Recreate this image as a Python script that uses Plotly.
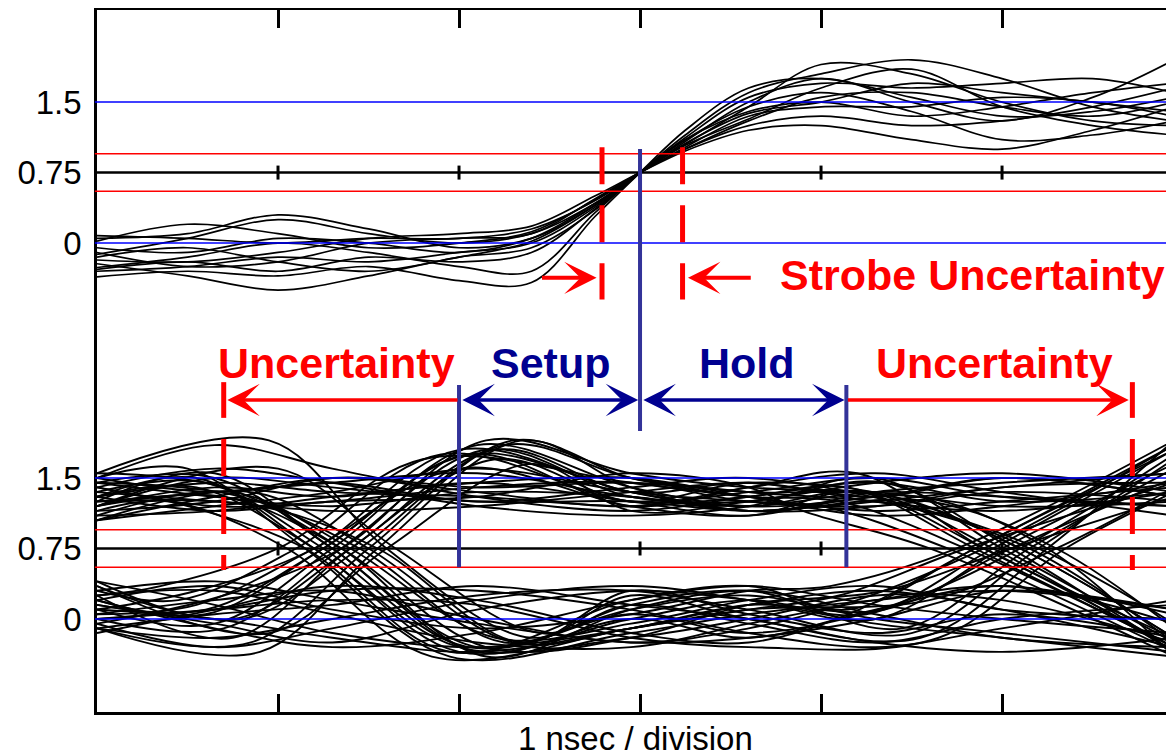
import plotly.graph_objects as go

# ---------------- data ----------------
X_DIV = [1, 2, 3, 4, 5]                     # division ticks, ns
Y_TICK_VALS = [0, 0.75, 1.5, 4.0, 4.75, 5.5]
Y_TICK_TEXT = ["0", "0.75", "1.5", "0", "0.75", "1.5"]
TOP_OFFSET = 4.0                            # upper panel drawn 4 units higher
LEVELS_BLUE = [0.0, 1.5]
LEVELS_RED = [0.55, 0.95]
LEVEL_MID = 0.75

# upper panel: strobe waveforms (sample times, ns)
TOP_X = [0, 0.5, 1.0, 1.5, 2.0, 2.4, 2.75, 3.0, 3.25, 3.6, 4.0, 4.5, 5.0, 5.5, 5.95]
TOP_TRACES = [
    [0.08, 0.05, 0.00, 0.05, 0.05, 0.15, 0.45, 0.75, 1.00, 1.30, 1.55, 1.60, 1.45, 1.35, 1.50],
    [0.05, 0.10, 0.30, 0.15, -0.05, 0.05, 0.40, 0.75, 1.05, 1.45, 1.90, 1.80, 1.50, 1.30, 1.25],
    [-0.12, 0.05, 0.25, 0.10, 0.00, 0.10, 0.42, 0.75, 1.08, 1.50, 1.75, 1.50, 1.30, 1.55, 1.95],
    [-0.18, -0.20, -0.10, 0.05, 0.10, 0.18, 0.50, 0.75, 0.98, 1.20, 1.25, 1.10, 1.00, 1.20, 1.45],
    [-0.22, -0.35, -0.50, -0.35, -0.15, -0.05, 0.35, 0.75, 1.12, 1.55, 1.70, 1.65, 1.70, 1.75, 1.60],
    [-0.26, -0.15, 0.00, -0.10, -0.25, -0.30, 0.32, 0.75, 1.15, 1.60, 1.80, 1.95, 1.75, 1.45, 1.30],
    [-0.30, -0.25, -0.15, -0.20, -0.10, 0.00, 0.38, 0.75, 1.10, 1.40, 1.50, 1.35, 1.45, 1.60, 1.70],
    [-0.36, -0.30, -0.35, -0.25, -0.40, -0.42, 0.28, 0.75, 1.20, 1.65, 1.75, 1.55, 1.35, 1.40, 1.55],
    [-0.10, -0.25, -0.20, 0.00, 0.05, 0.10, 0.47, 0.75, 1.02, 1.35, 1.45, 1.45, 1.55, 1.50, 1.35],
    [-0.28, -0.20, -0.30, -0.15, -0.20, -0.10, 0.36, 0.75, 1.10, 1.45, 1.60, 1.40, 1.10, 1.15, 1.30],
    [-0.05, -0.10, 0.05, 0.00, -0.10, 0.05, 0.42, 0.75, 1.06, 1.38, 1.50, 1.70, 1.60, 1.50, 1.40],
    [0.02, 0.20, 0.10, -0.05, 0.00, 0.12, 0.46, 0.75, 1.00, 1.25, 1.35, 1.25, 1.30, 1.45, 1.65],
    [-0.15, -0.05, -0.20, -0.30, -0.15, 0.02, 0.40, 0.75, 1.04, 1.32, 1.65, 1.85, 1.45, 1.25, 1.15],
]

# lower panel: eye diagram. Per trace: first / second crossing time (ns) and
# levels at [start, before t1, t1, after t1, 2.95, 3.6, before t2, t2, end]
BOT_T1 = [1.3, 1.3, 1.3, 1.3, 1.3,
          1.3, 1.3, 1.3, 1.3, 1.3,
          1.2, 1.45, 1.05, 1.6, 1.35,
          1.25, 1.4, 1.15, 1.55, 1.3,
          1.3, 1.1, 1.5, 1.2, 1.4,
          1.35, 1.0, 1.55, 1.25, 1.45,
          1.3, 1.3, 1.3, 1.3, 1.3,
          1.3, 1.3, 1.3, 1.3, 1.3,
          1.3, 1.3, 1.3, 1.3, 1.3,
          1.3, 1.15, 1.5, 1.2, 1.35, 1.65,
          1.25, 1.35, 1.6, 1.2, 1.4,
          1.3, 1.3, 1.3, 1.3]
BOT_T2 = [5.0, 5.0, 5.0, 5.0, 5.0,
          4.85, 5.1, 5.3, 4.7, 5.0,
          4.95, 5.15, 4.8, 5.25, 5.05,
          5.0, 5.0, 5.0, 5.0, 5.0,
          5.0, 5.0, 5.0, 5.0, 5.0,
          5.05, 4.8, 5.25, 4.9, 5.15,
          4.9, 5.2, 4.75, 5.05, 5.35,
          5.0, 5.0, 5.0, 5.0, 5.0,
          5.0, 5.0, 4.9, 5.2, 4.6,
          5.1, 4.85, 5.3, 5.0, 5.0, 5.0,
          5.0, 5.0, 5.0, 4.95, 5.1,
          5.0, 4.85, 5.0, 5.0]
BOT_TRACES = [
    [1.25, 1.35, 1.45, 1.55, 1.30, 1.20, 1.35, 1.30, 1.20],
    [1.50, 1.85, 1.60, 1.30, 1.15, 1.30, 1.45, 1.25, 1.35],
    [1.10, 1.15, 1.30, 1.45, 1.50, 1.30, 1.10, 1.20, 1.45],
    [1.35, 1.25, 1.15, 1.20, 1.35, 1.45, 1.30, 1.50, 1.30],
    [1.20, 1.50, 1.40, 1.25, 1.25, 1.15, 1.25, 1.40, 1.55],
    [1.30, 1.45, 1.35, 1.30, 1.20, 1.30, 1.40, 0.75, -0.30],
    [1.15, 1.25, 1.50, 1.40, 1.45, 1.35, 1.30, 0.75, -0.20],
    [1.45, 1.30, 1.20, 1.35, 1.30, 1.15, 1.25, 0.75, -0.10],
    [1.05, 1.20, 1.35, 1.60, 1.35, 1.25, 1.20, 0.75, -0.35],
    [1.40, 1.60, 1.45, 1.20, 1.10, 1.20, 1.50, 0.75, -0.25],
    [1.30, 1.40, 0.75, -0.35, 0.00, 0.20, 0.05, 0.75, 1.80],
    [1.45, 1.30, 0.75, -0.25, 0.15, 0.30, -0.10, 0.75, 1.60],
    [1.15, 1.25, 0.75, -0.40, -0.10, 0.10, 0.25, 0.75, 1.45],
    [1.55, 1.90, 0.75, -0.20, 0.25, 0.00, -0.20, 0.75, 1.90],
    [1.20, 1.30, 0.75, -0.30, -0.20, 0.15, 0.30, 0.75, 1.30],
    [1.35, 1.45, 0.75, -0.30, 0.10, 0.25, 0.00, -0.15, -0.35],
    [1.10, 1.35, 0.75, -0.20, -0.05, 0.20, 0.35, 0.10, 0.00],
    [1.50, 1.60, 0.75, -0.40, -0.15, 0.05, 0.20, 0.30, 0.10],
    [1.25, 1.20, 0.75, -0.25, 0.30, 0.05, -0.15, 0.05, -0.20],
    [1.45, 1.50, 0.75, -0.35, 0.00, -0.20, 0.10, 0.35, -0.05],
    [0.10, -0.05, 0.75, 1.85, 1.40, 1.20, 1.30, 1.50, 1.30],
    [0.30, 0.20, 0.75, 1.75, 1.25, 1.35, 1.50, 1.30, 1.20],
    [-0.10, -0.25, 0.75, 1.90, 1.50, 1.30, 1.15, 1.25, 1.40],
    [0.05, 0.15, 0.75, 1.60, 1.20, 1.10, 1.35, 1.45, 1.55],
    [0.40, 0.00, 0.75, 1.80, 1.35, 1.45, 1.25, 1.15, 1.35],
    [0.00, -0.10, 0.75, 1.80, 1.30, 1.25, 1.45, 0.75, -0.35],
    [0.25, 0.35, 0.75, 1.70, 1.45, 1.30, 1.25, 0.75, -0.30],
    [-0.10, -0.35, 0.75, 1.90, 1.40, 1.15, 1.30, 0.75, -0.40],
    [0.15, 0.10, 0.75, 1.75, 1.20, 1.40, 1.55, 0.75, -0.20],
    [0.35, 0.00, 0.75, 1.85, 1.50, 1.35, 1.20, 0.75, -0.25],
    [0.05, 0.20, 0.30, 0.00, -0.25, -0.10, 0.20, 0.75, 1.85],
    [-0.10, -0.20, 0.00, 0.25, 0.30, 0.10, -0.15, 0.75, 1.70],
    [0.20, 0.35, 0.10, -0.10, 0.05, 0.30, 0.35, 0.75, 1.90],
    [0.40, 0.15, -0.15, -0.30, -0.10, 0.15, 0.10, 0.75, 1.50],
    [0.00, 0.10, 0.20, 0.15, -0.20, -0.30, -0.20, 0.75, 1.35],
    [0.10, 0.00, -0.20, -0.35, -0.10, 0.15, 0.30, 0.10, -0.30],
    [-0.05, -0.30, -0.10, 0.20, 0.35, 0.20, -0.05, -0.20, -0.40],
    [0.30, 0.40, 0.20, -0.05, -0.25, -0.20, 0.00, 0.30, 0.10],
    [0.00, 0.10, 0.30, 0.30, 0.10, -0.15, -0.30, -0.10, 0.20],
    [0.20, -0.10, -0.30, -0.15, 0.20, 0.35, 0.15, 0.00, -0.15],
    [1.40, 1.20, 1.25, 1.40, 1.45, 1.25, 1.20, 1.35, 1.25],
    [1.05, 1.30, 1.50, 1.35, 1.20, 1.40, 1.55, 1.35, 1.10],
    [1.20, 1.40, 1.30, 1.45, 1.25, 1.10, 1.35, 0.75, -0.30],
    [1.50, 1.35, 1.45, 1.25, 1.40, 1.50, 1.20, 0.75, -0.05],
    [1.30, 1.15, 1.25, 1.30, 1.55, 1.40, 1.15, 0.75, -0.40],
    [1.25, 1.55, 0.75, -0.30, 0.05, -0.15, 0.15, 0.75, 1.75],
    [1.40, 1.20, 0.75, -0.35, 0.20, 0.35, 0.10, 0.75, 1.85],
    [1.05, 1.35, 0.75, -0.25, -0.10, 0.10, 0.20, 0.75, 1.40],
    [1.30, 1.50, 0.75, -0.30, -0.20, 0.00, 0.25, 0.20, -0.25],
    [1.55, 1.40, 0.75, -0.40, 0.10, 0.30, 0.05, -0.20, -0.30],
    [1.20, 1.60, 0.75, -0.15, 0.15, -0.05, -0.25, 0.00, 0.15],
    [0.20, 0.05, 0.75, 1.75, 1.35, 1.15, 1.20, 1.40, 1.45],
    [-0.05, 0.25, 0.75, 1.90, 1.55, 1.40, 1.35, 1.20, 1.25],
    [0.35, -0.15, 0.75, 1.65, 1.15, 1.25, 1.45, 1.55, 1.35],
    [0.10, 0.30, 0.75, 1.80, 1.35, 1.20, 1.35, 0.75, -0.35],
    [0.25, -0.20, 0.75, 1.70, 1.25, 1.45, 1.30, 0.75, -0.20],
    [0.15, -0.05, -0.25, 0.10, 0.30, 0.20, 0.00, 0.75, 1.65],
    [-0.15, 0.10, 0.35, 0.20, -0.15, -0.25, 0.05, 0.75, 1.80],
    [0.25, 0.30, 0.05, -0.25, -0.30, -0.05, 0.20, 0.35, 0.05],
    [-0.10, 0.05, 0.15, 0.35, 0.15, 0.00, -0.25, -0.35, -0.20],
]

# timing markers (ns)
T_SETUP, T_STROBE, T_HOLD = 2.0, 3.0, 4.14
T_UNC_L, T_UNC_R = 0.70, 5.72
T_SU_L, T_SU_R = 2.79, 3.235

FONT = "Liberation Sans, Arial, Helvetica, sans-serif"
RED = "#ff0000"
BLUE = "#0000ff"
NAVY_LINE = "#333399"
NAVY = "#000090"

fig = go.Figure()

# upper panel waveforms
for ys in TOP_TRACES:
    fig.add_trace(go.Scatter(
        x=TOP_X, y=[v + TOP_OFFSET for v in ys], mode="lines",
        line=dict(color="black", width=1.7, shape="spline", smoothing=1.0),
        hoverinfo="skip", showlegend=False))

# lower panel eye diagram
for t1, t2, ys in zip(BOT_T1, BOT_T2, BOT_TRACES):
    xs = [0.0, t1 - 0.65, t1, t1 + 0.8, 2.95, 3.6, t2 - 0.7, t2, 5.95]
    fig.add_trace(go.Scatter(
        x=xs, y=ys, mode="lines",
        line=dict(color="black", width=1.9, shape="spline", smoothing=1.0),
        hoverinfo="skip", showlegend=False))

# small division ticks on the 0.75 lines
for off in (0.0, TOP_OFFSET):
    fig.add_trace(go.Scatter(
        x=X_DIV, y=[LEVEL_MID + off] * len(X_DIV), mode="markers",
        marker=dict(symbol="line-ns", size=10, line=dict(color="black", width=3)),
        hoverinfo="skip", showlegend=False))

shapes = []
for off in (0.0, TOP_OFFSET):
    for lv in LEVELS_BLUE:
        shapes.append(dict(type="line", xref="paper", x0=-0.002, x1=1, y0=lv + off, y1=lv + off,
                           line=dict(color=BLUE, width=1.5)))
    for lv in LEVELS_RED:
        shapes.append(dict(type="line", xref="paper", x0=-0.002, x1=1, y0=lv + off, y1=lv + off,
                           line=dict(color=RED, width=1.5)))
    shapes.append(dict(type="line", xref="paper", x0=-0.002, x1=1, y0=LEVEL_MID + off, y1=LEVEL_MID + off,
                       line=dict(color="black", width=2.5)))

# strobe, setup and hold lines
shapes.append(dict(type="line", x0=T_STROBE, x1=T_STROBE, y0=2.0, y1=5.0,
                   line=dict(color=NAVY_LINE, width=4)))
for t in (T_SETUP, T_HOLD):
    shapes.append(dict(type="line", x0=t, x1=t, y0=0.55, y1=2.49,
                       line=dict(color=NAVY_LINE, width=4)))
# dashed red uncertainty markers
for t in (T_SU_L, T_SU_R):
    shapes.append(dict(type="line", x0=t, x1=t, y0=5.02, y1=3.40,
                       line=dict(color=RED, width=5, dash="37px,21px")))
for t in (T_UNC_L, T_UNC_R):
    shapes.append(dict(type="line", x0=t, x1=t, y0=1.915, y1=0.52,
                       line=dict(color=RED, width=5, dash="37px,21px")))
    shapes.append(dict(type="line", x0=t, x1=t, y0=2.52, y1=2.14,
                       line=dict(color=RED, width=5)))

ann = []
Y_ARR = 2.33
def arrow(x_tip, x_tail, y, color, width, size, both=False):
    d = dict(x=x_tip, y=y, ax=x_tail, ay=y, xref="x", yref="y", axref="x", ayref="y",
             text="", showarrow=True, arrowhead=3, arrowsize=size, arrowwidth=width,
             arrowcolor=color)
    if both:
        d.update(arrowside="end+start", startarrowhead=3, startarrowsize=size)
    return d

ann.append(arrow(T_UNC_L + 0.02, T_SETUP, Y_ARR, RED, 3.5, 1.55))
ann.append(arrow(T_UNC_R - 0.02, T_HOLD, Y_ARR, RED, 3.5, 1.55))
ann.append(arrow(T_STROBE - 0.01, T_SETUP + 0.01, Y_ARR, NAVY, 3.5, 1.55, both=True))
ann.append(arrow(T_HOLD - 0.01, T_STROBE + 0.01, Y_ARR, NAVY, 3.5, 1.55, both=True))
ann.append(arrow(T_SU_L - 0.03, 2.45, 3.63, RED, 4, 1.35))
ann.append(arrow(T_SU_R + 0.03, 3.62, 3.63, RED, 4, 1.35))

def label(txt, x, y, color, anchor="center"):
    return dict(x=x, y=y, xref="x", yref="y", text="<b>" + txt + "</b>", showarrow=False,
                xanchor=anchor, yanchor="middle",
                font=dict(family=FONT, size=43, color=color))

ann.append(label("Uncertainty", 1.323, 2.724, RED))
ann.append(label("Setup", 2.506, 2.724, NAVY))
ann.append(label("Hold", 3.59, 2.724, NAVY))
ann.append(label("Uncertainty", 4.96, 2.724, RED))
ann.append(label("Strobe Uncertainty", 3.76, 3.66, RED, anchor="left"))
ann.append(dict(x=0.5, y=0, xref="paper", yref="paper", yanchor="middle", yshift=-26,
                text="1 nsec / division", showarrow=False,
                font=dict(family=FONT, size=33, color="black")))

# the page adds an 8px body margin, so the figure is 8px smaller than the window
fig.update_layout(
    width=1166, height=748,
    margin=dict(l=89, r=0, t=2, b=44, autoexpand=False),
    paper_bgcolor="white", plot_bgcolor="white",
    showlegend=False,
    shapes=shapes, annotations=ann,
    xaxis=dict(range=[0, 5.95], showgrid=False, zeroline=False, showticklabels=False,
               tickvals=X_DIV, ticks="inside", ticklen=18, tickwidth=2.5, tickcolor="black",
               showline=True, linewidth=2.5, linecolor="black", mirror="ticks"),
    yaxis=dict(range=[-0.99, 6.48], showgrid=False, zeroline=False,
               tickvals=Y_TICK_VALS, ticktext=Y_TICK_TEXT, ticks="",
               ticklabelstandoff=6,
               tickfont=dict(family=FONT, size=33, color="black"),
               showline=True, linewidth=2.5, linecolor="black"),
)

fig.write_html("out.html")
